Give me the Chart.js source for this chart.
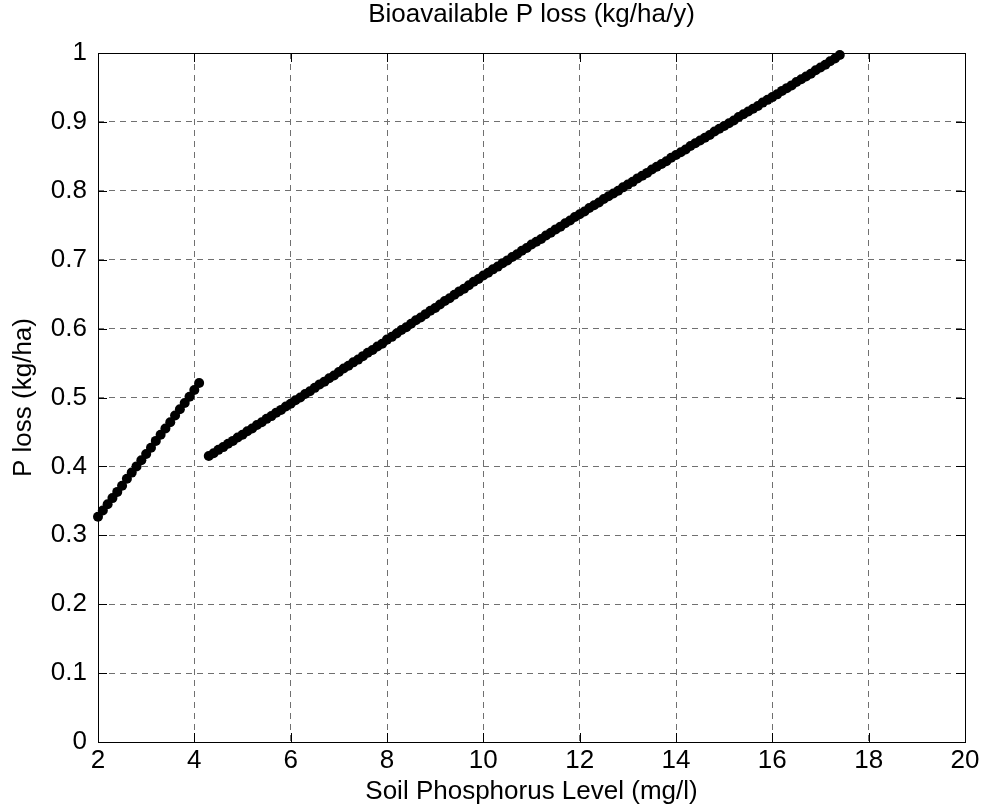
<!DOCTYPE html>
<html>
<head>
<meta charset="utf-8">
<script src="https://cdn.jsdelivr.net/npm/chart.js@4"></script>
<style>
  html, body { margin: 0; padding: 0; background: #fff; }
  canvas { display: block; }
</style>
</head>
<body>
<canvas id="chart" width="984" height="811"></canvas>
<script>
// Values

// first run of points (low soil P)
const lowX = [2.0, 2.1, 2.2, 2.3, 2.4, 2.5, 2.6, 2.7, 2.8, 2.9, 3.0,
              3.1, 3.2, 3.3, 3.4, 3.5, 3.6, 3.7, 3.8, 3.9, 4.0, 4.1];
const lowY = [0.327, 0.336, 0.345, 0.354, 0.363, 0.372, 0.382, 0.391, 0.400, 0.409, 0.418,
              0.427, 0.437, 0.446, 0.455, 0.464, 0.474, 0.483, 0.492, 0.501, 0.511, 0.521];

// second run of points
const highX = [
  4.3, 4.4, 4.5, 4.6, 4.7, 4.8, 4.9, 5.0, 5.1, 5.2, 5.3, 5.4, 5.5, 5.6, 5.7, 5.8, 5.9, 6.0,
  6.1, 6.2, 6.3, 6.4, 6.5, 6.6, 6.7, 6.8, 6.9, 7.0, 7.1, 7.2, 7.3, 7.4, 7.5, 7.6, 7.7, 7.8, 7.9, 8.0,
  8.1, 8.2, 8.3, 8.4, 8.5, 8.6, 8.7, 8.8, 8.9, 9.0, 9.1, 9.2, 9.3, 9.4, 9.5, 9.6, 9.7, 9.8, 9.9, 10.0,
  10.1, 10.2, 10.3, 10.4, 10.5, 10.6, 10.7, 10.8, 10.9, 11.0, 11.1, 11.2, 11.3, 11.4, 11.5, 11.6, 11.7, 11.8, 11.9, 12.0,
  12.1, 12.2, 12.3, 12.4, 12.5, 12.6, 12.7, 12.8, 12.9, 13.0, 13.1, 13.2, 13.3, 13.4, 13.5, 13.6, 13.7, 13.8, 13.9, 14.0,
  14.1, 14.2, 14.3, 14.4, 14.5, 14.6, 14.7, 14.8, 14.9, 15.0, 15.1, 15.2, 15.3, 15.4, 15.5, 15.6, 15.7, 15.8, 15.9, 16.0,
  16.1, 16.2, 16.3, 16.4, 16.5, 16.6, 16.7, 16.8, 16.9, 17.0, 17.1, 17.2, 17.3, 17.4
];
const highY = [
  0.415, 0.419, 0.424, 0.428, 0.433, 0.437, 0.442, 0.446, 0.451, 0.455, 0.460, 0.464, 0.469, 0.473, 0.478, 0.482, 0.487, 0.491,
  0.496, 0.500, 0.505, 0.509, 0.514, 0.519, 0.523, 0.528, 0.532, 0.537, 0.542, 0.546, 0.551, 0.555, 0.560, 0.565, 0.569, 0.574, 0.578, 0.584,
  0.588, 0.593, 0.598, 0.602, 0.607, 0.612, 0.616, 0.621, 0.626, 0.630, 0.635, 0.640, 0.644, 0.649, 0.654, 0.658, 0.663, 0.668, 0.672, 0.677,
  0.681, 0.686, 0.690, 0.695, 0.699, 0.704, 0.708, 0.713, 0.717, 0.722, 0.726, 0.730, 0.735, 0.739, 0.744, 0.748, 0.753, 0.757, 0.762, 0.766,
  0.770, 0.775, 0.779, 0.783, 0.788, 0.792, 0.796, 0.800, 0.805, 0.809, 0.813, 0.818, 0.822, 0.826, 0.831, 0.835, 0.839, 0.843, 0.848, 0.852,
  0.856, 0.860, 0.865, 0.869, 0.873, 0.877, 0.881, 0.886, 0.890, 0.894, 0.898, 0.902, 0.907, 0.911, 0.915, 0.919, 0.923, 0.928, 0.932, 0.936,
  0.940, 0.945, 0.949, 0.953, 0.958, 0.962, 0.966, 0.970, 0.975, 0.979, 0.983, 0.988, 0.992, 0.997
];

// axis ticks
const xTicks = [2, 4, 6, 8, 10, 12, 14, 16, 18, 20];
const xTickLabels = ["2", "4", "6", "8", "10", "12", "14", "16", "18", "20"];
const yTicks = [0, 0.1, 0.2, 0.3, 0.4, 0.5, 0.6, 0.7, 0.8, 0.9, 1];
const yTickLabels = ["0", "0.1", "0.2", "0.3", "0.4", "0.5", "0.6", "0.7", "0.8", "0.9", "1"];

const chartTitle = "Bioavailable P loss (kg/ha/y)";

const FONT = "'Liberation Sans', Arial, Helvetica, sans-serif";
const FONT_SIZE = 26;

function toPoints(xs, ys) {
  return xs.map((x, i) => ({ x: x, y: ys[i] }));
}

// MATLAB style box with inward tick marks, title centred over the axes
const boxPlugin = {
  id: "matlabBox",
  beforeDatasetsDraw(chart) {
    const { ctx, chartArea: a, scales } = chart;
    const tickLen = 9;
    ctx.save();
    ctx.strokeStyle = "#000";
    ctx.lineWidth = 1;
    ctx.setLineDash([]);
    ctx.beginPath();
    xTicks.forEach(v => {
      const px = Math.round(scales.x.getPixelForValue(v)) + 0.5;
      ctx.moveTo(px, a.bottom);
      ctx.lineTo(px, a.bottom - tickLen);
      ctx.moveTo(px, a.top);
      ctx.lineTo(px, a.top + tickLen);
    });
    yTicks.forEach(v => {
      const py = Math.round(scales.y.getPixelForValue(v)) + 0.5;
      ctx.moveTo(a.left, py);
      ctx.lineTo(a.left + tickLen, py);
      ctx.moveTo(a.right, py);
      ctx.lineTo(a.right - tickLen, py);
    });
    ctx.stroke();
    ctx.strokeRect(Math.round(a.left) + 0.5, Math.round(a.top) + 0.5,
                   Math.round(a.right - a.left), Math.round(a.bottom - a.top));
    ctx.restore();
  },
  afterDraw(chart) {
    const { ctx, chartArea: a } = chart;
    ctx.save();
    ctx.fillStyle = "#000";
    ctx.font = FONT_SIZE + "px " + FONT;
    ctx.textAlign = "center";
    ctx.textBaseline = "middle";
    ctx.fillText(chartTitle, (a.left + a.right) / 2, 15);
    ctx.restore();
  }
};

const pointStyle = {
  showLine: true,
  borderColor: "#000",
  borderWidth: 1,
  pointRadius: 5,
  pointHoverRadius: 5,
  pointBackgroundColor: "#000",
  pointBorderColor: "#000",
  pointBorderWidth: 0,
  clip: false
};

new Chart(document.getElementById("chart"), {
  type: "scatter",
  data: {
    datasets: [
      Object.assign({ label: "low", data: toPoints(lowX, lowY) }, pointStyle),
      Object.assign({ label: "high", data: toPoints(highX, highY) }, pointStyle)
    ]
  },
  options: {
    responsive: false,
    animation: false,
    devicePixelRatio: 1,
    layout: { padding: { left: 0, right: 19, top: 53, bottom: 0 } },
    plugins: {
      legend: { display: false },
      tooltip: { enabled: false },
      title: { display: false }
    },
    scales: {
      x: {
        type: "linear",
        min: 2,
        max: 20,
        afterBuildTicks: s => { s.ticks = xTicks.map(v => ({ value: v })); },
        afterFit: s => { s.height = 69; },
        ticks: {
          color: "#000",
          font: { family: FONT, size: FONT_SIZE },
          padding: 3,
          maxRotation: 0,
          callback: (v, i) => xTickLabels[i]
        },
        grid: { color: "#707070", lineWidth: 1, drawTicks: false },
        border: { display: false, dash: [6, 5] },
        title: {
          display: true,
          text: "Soil Phosphorus Level (mg/l)",
          color: "#000",
          font: { family: FONT, size: FONT_SIZE },
          padding: { top: 0, bottom: 4 }
        }
      },
      y: {
        type: "linear",
        min: 0,
        max: 1,
        afterBuildTicks: s => { s.ticks = yTicks.map(v => ({ value: v })); },
        afterFit: s => { s.width = 98; },
        ticks: {
          color: "#000",
          font: { family: FONT, size: FONT_SIZE },
          padding: 11,
          callback: (v, i) => yTickLabels[i]
        },
        grid: { color: "#707070", lineWidth: 1, drawTicks: false },
        border: { display: false, dash: [6, 5] },
        title: {
          display: true,
          text: "P loss (kg/ha)",
          color: "#000",
          font: { family: FONT, size: FONT_SIZE },
          padding: { top: 8, bottom: 0 }
        }
      }
    }
  },
  plugins: [boxPlugin]
});
</script>
</body>
</html>
